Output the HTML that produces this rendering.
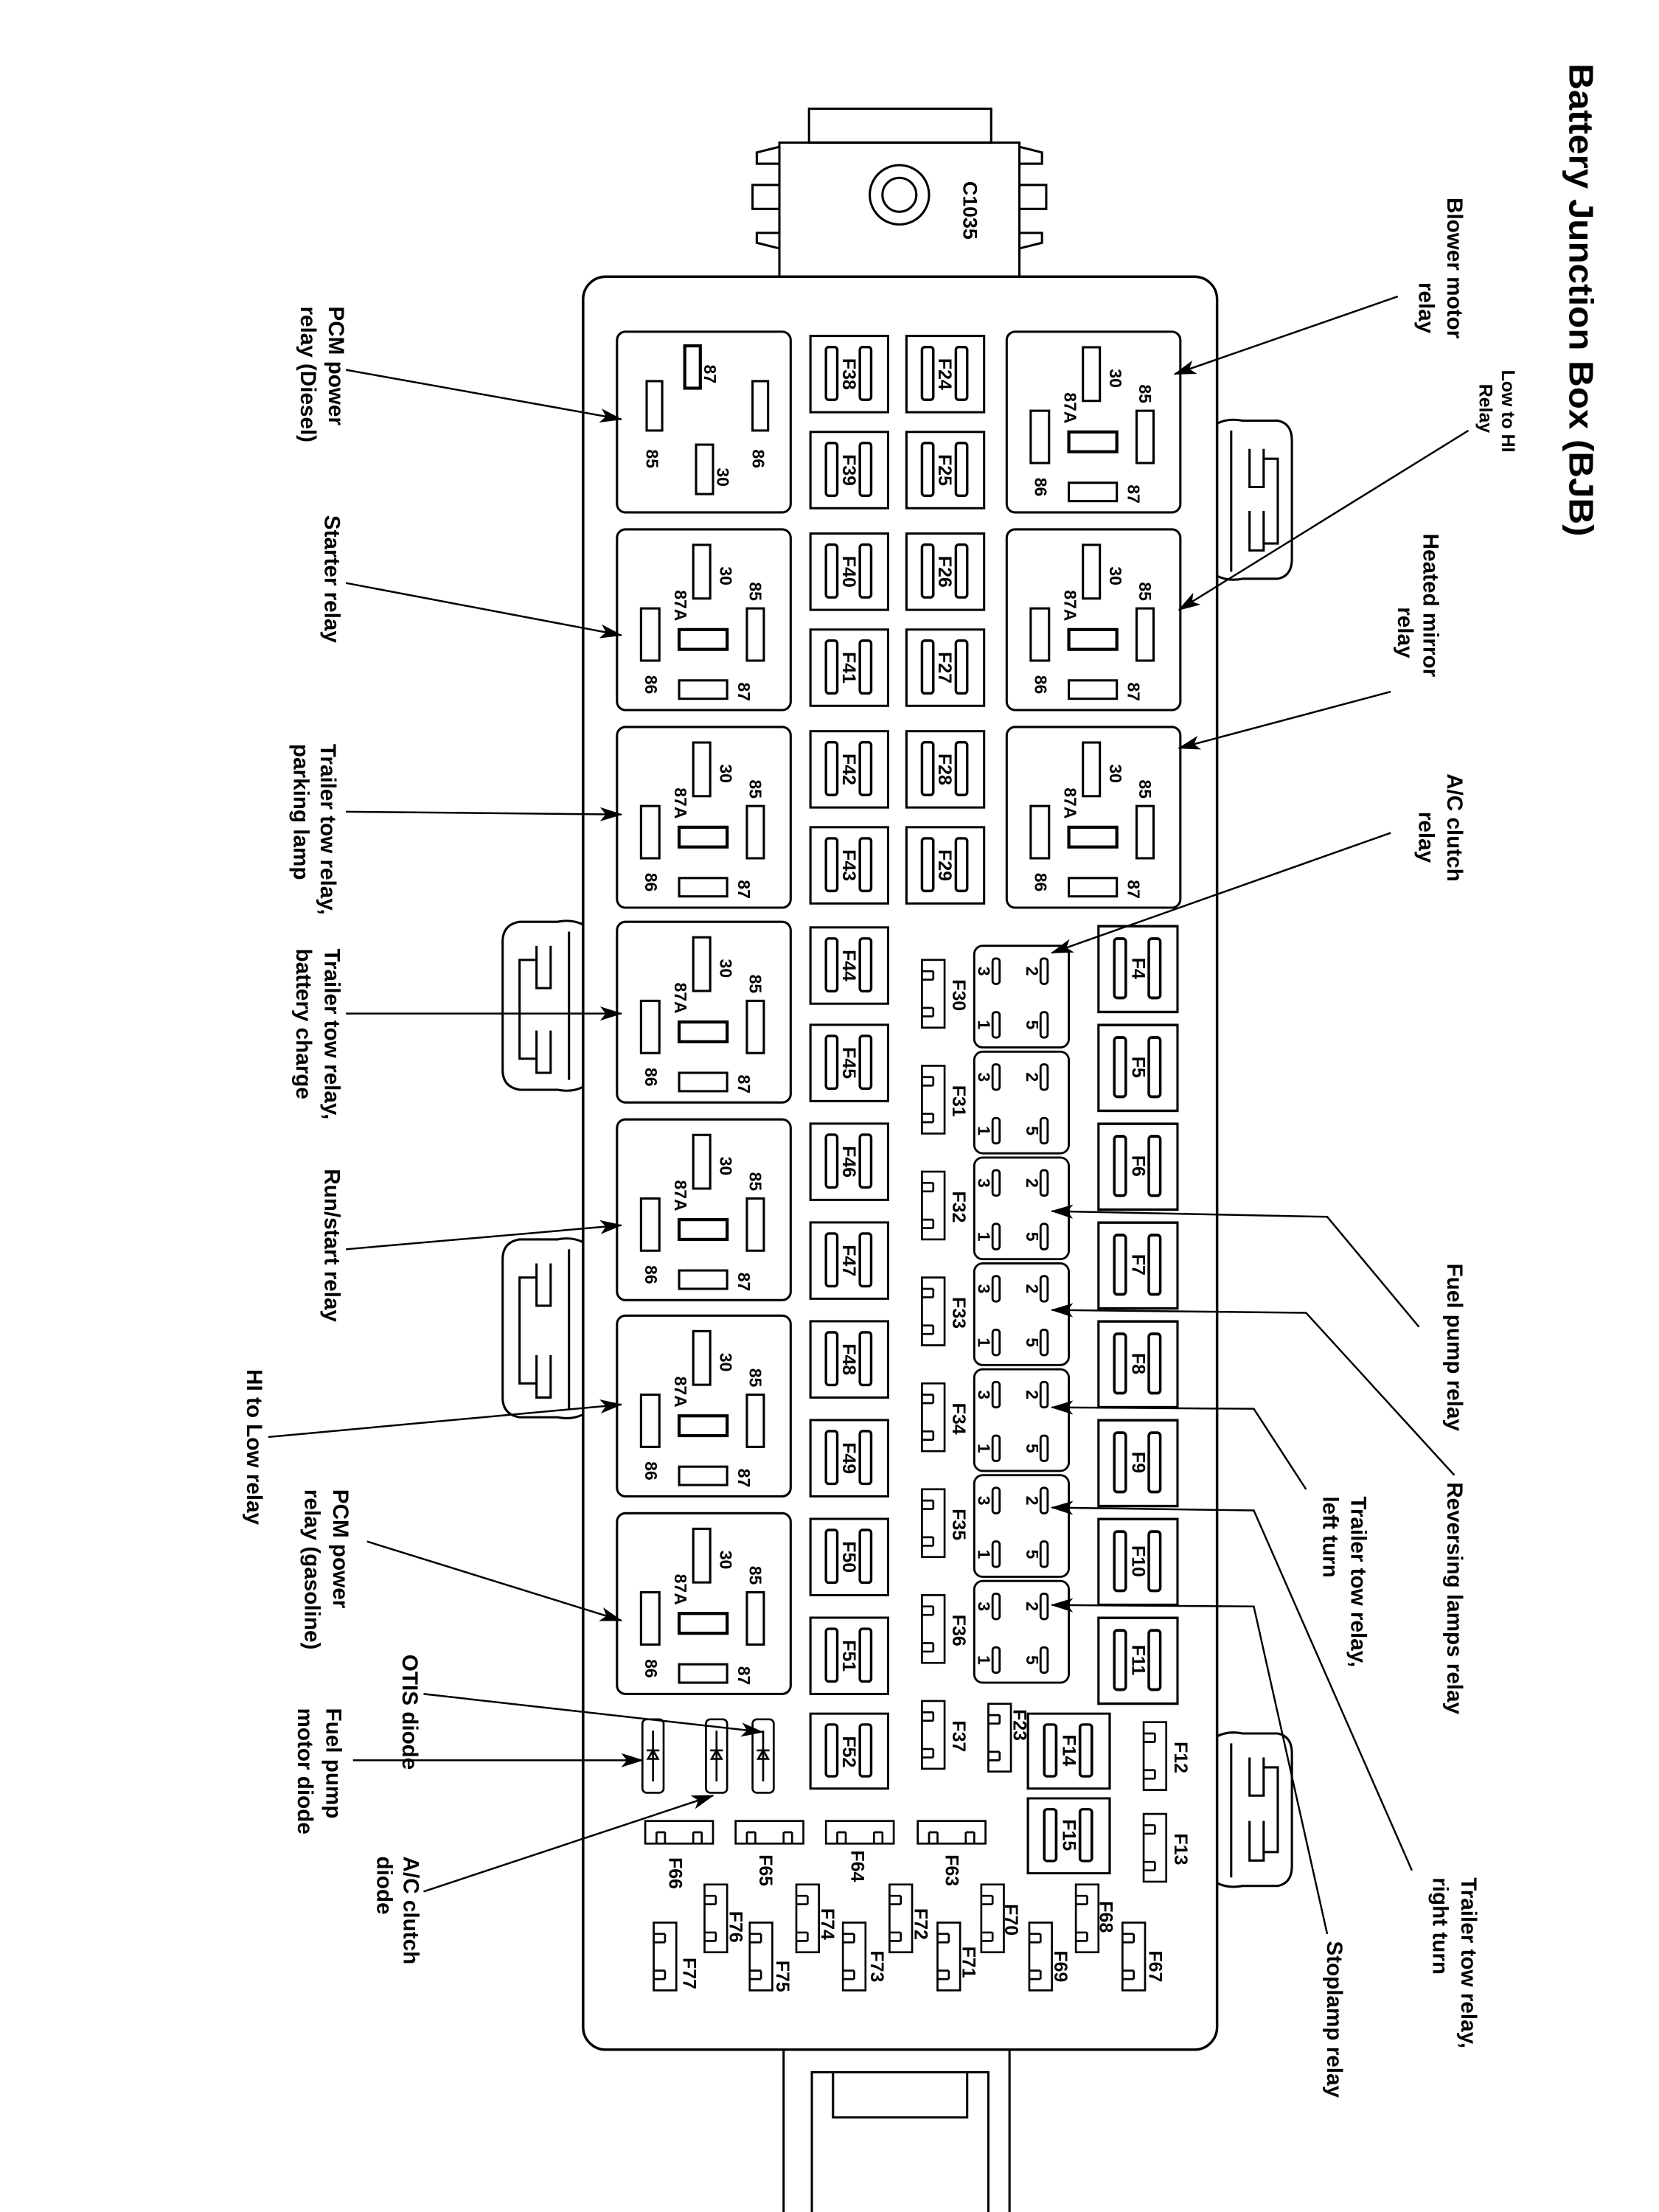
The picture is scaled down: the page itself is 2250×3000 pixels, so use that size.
<!DOCTYPE html>
<html><head><meta charset="utf-8">
<style>
html,body{margin:0;padding:0;background:#fff;}
svg{display:block;}
text{font-family:"Liberation Sans",sans-serif;font-weight:bold;fill:#000;}
.p{font-size:12px;text-anchor:middle;dominant-baseline:central;}
.f{font-size:13px;text-anchor:middle;dominant-baseline:central;}
.l{font-size:15.5px;dominant-baseline:central;}
</style></head><body>
<svg width="2250" height="3000" viewBox="0 0 1175 1567" preserveAspectRatio="none" xmlns="http://www.w3.org/2000/svg">
<defs>
<marker id="ah" markerUnits="userSpaceOnUse" markerWidth="16" markerHeight="10" refX="15" refY="5" orient="auto"><path d="M0,0 L16,5 L0,10 L4,5 Z" fill="#000"/></marker>
<g id="rl" fill="none" stroke="#000" stroke-width="1.6">
<rect x="0" y="0" width="123" height="128" rx="6"/>
<rect x="54" y="11" width="12" height="38"/>
<rect x="92" y="56" width="12" height="37"/>
<rect x="17" y="56" width="13" height="37"/>
<rect x="44" y="71" width="34" height="14" stroke-width="2.2"/>
<rect x="44" y="107" width="34" height="13"/>
</g>
<g id="rd" fill="none" stroke="#000" stroke-width="1.6">
<rect x="0" y="0" width="123" height="128" rx="6"/>
<rect x="48" y="10" width="11" height="30" stroke-width="2.2"/>
<rect x="96" y="35" width="11" height="35"/>
<rect x="21" y="35" width="11" height="35"/>
<rect x="56" y="80" width="12" height="35"/>
</g>
<symbol id="fu" viewBox="0 0 57 57" preserveAspectRatio="none">
<rect x="1" y="1" width="55" height="55" fill="none" stroke="#000" stroke-width="1.6"/>
<rect x="12" y="9" width="8" height="38" rx="2" fill="none" stroke="#000" stroke-width="1.8"/>
<rect x="36" y="9" width="8" height="38" rx="2" fill="none" stroke="#000" stroke-width="1.8"/>
</symbol>
<g id="mr" fill="none" stroke="#000" stroke-width="1.5">
<rect x="0" y="0" width="67" height="72" rx="6"/>
<rect x="13" y="9" width="5" height="18" rx="2"/>
<rect x="47" y="9" width="5" height="18" rx="2"/>
<rect x="13" y="47" width="5" height="18" rx="2"/>
<rect x="47" y="47" width="5" height="18" rx="2"/>
</g>
<g id="mv" fill="none" stroke="#000" stroke-width="1.4">
<rect x="0" y="0" width="16" height="48"/>
<path d="M0,8 H8 M0,14 H8 M8,8 V14 M0,34 H8 M0,40 H8 M8,34 V40"/>
</g>
<g id="mh" fill="none" stroke="#000" stroke-width="1.4">
<rect x="0" y="0" width="48" height="16"/>
<path d="M8,16 V8 M14,16 V8 M8,8 H14 M34,16 V8 M40,16 V8 M34,8 H40"/>
</g>
<g id="di" fill="none" stroke="#000" stroke-width="1.4">
<rect x="0" y="0" width="15" height="52" rx="3"/>
<path d="M7.5,8 V44 M3,22 H12 M4,28 L7.5,22 L11,28 Z"/>
</g>
</defs>

<text class="l" style="font-size:24px" textLength="335" lengthAdjust="spacingAndGlyphs" transform="translate(1120,45) rotate(90)">Battery Junction Box (BJB)</text>

<g fill="none" stroke="#000" stroke-width="1.6">
<rect x="552" y="101" width="170" height="95"/>
<rect x="573" y="77" width="129" height="24"/>
<path d="M552,104 L536,108 V116 H552 M552,131 H533 V148 H552 M552,165 H536 V172 L552,176"/>
<path d="M722,104 L738,108 V116 H722 M722,131 H741 V148 H722 M722,165 H738 V172 L722,176"/>
<circle cx="637" cy="138" r="21"/><circle cx="637" cy="138" r="12"/>
</g>
<text class="f" style="font-size:14px" transform="translate(687,149) rotate(90)">C1035</text>

<rect x="413" y="196" width="449" height="1256" rx="16" fill="none" stroke="#000" stroke-width="1.8"/>
<g fill="none" stroke="#000" stroke-width="1.6">
<path d="M555,1452 V1567 M715,1452 V1567"/>
<path d="M575,1567 V1468 H700 V1567 M590,1468 V1500 H685 V1468"/>
</g>
<g fill="none" stroke="#000" stroke-width="1.6">
<path d="M862,300 Q870,296 880,298 H905 Q915,300 915,312 V396 Q915,408 905,410 H880 Q870,412 862,408"/>
<path d="M872,305 V405 M885,318 V345 H895 V318 M885,362 V390 H895 V362 M895,325 H905 V385 H895"/>
<path d="M862,1230 Q870,1226 880,1228 H905 Q915,1230 915,1242 V1322 Q915,1334 905,1336 H880 Q870,1338 862,1334"/>
<path d="M872,1235 V1330 M885,1245 V1272 H895 V1245 M885,1290 V1318 H895 V1290 M895,1252 H905 V1312 H895"/>
<path d="M413,655 Q405,651 395,653 H368 Q356,655 356,667 V758 Q356,770 368,772 H395 Q405,774 413,770"/>
<path d="M403,660 V765 M390,670 V700 H380 V670 M390,730 V760 H380 V730 M380,680 H368 V750 H380"/>
<path d="M413,880 Q405,876 395,878 H368 Q356,880 356,892 V990 Q356,1002 368,1004 H395 Q405,1006 413,1002"/>
<path d="M403,885 V998 M390,895 V925 H380 V895 M390,960 V990 H380 V960 M380,905 H368 V980 H380"/>
</g>

<use href="#rd" x="437" y="235"/>
<text class="p" transform="translate(503,265) rotate(90)">87</text>
<text class="p" transform="translate(537,325) rotate(90)">86</text>
<text class="p" transform="translate(462,325) rotate(90)">85</text>
<text class="p" transform="translate(512,338) rotate(90)">30</text>

<use href="#rl" x="437" y="375"/>
<use href="#rl" x="437" y="515"/>
<use href="#rl" x="437" y="653"/>
<use href="#rl" x="437" y="793"/>
<use href="#rl" x="437" y="932"/>
<use href="#rl" x="437" y="1072"/>
<use href="#rl" x="713" y="235"/>
<use href="#rl" x="713" y="375"/>
<use href="#rl" x="713" y="515"/>

<g>
<text class="p" transform="translate(514,408) rotate(90)">30</text><text class="p" transform="translate(535,419) rotate(90)">85</text><text class="p" transform="translate(482,429) rotate(90)">87A</text><text class="p" transform="translate(461,485) rotate(90)">86</text><text class="p" transform="translate(527,490) rotate(90)">87</text>
<text class="p" transform="translate(514,548) rotate(90)">30</text><text class="p" transform="translate(535,559) rotate(90)">85</text><text class="p" transform="translate(482,569) rotate(90)">87A</text><text class="p" transform="translate(461,625) rotate(90)">86</text><text class="p" transform="translate(527,630) rotate(90)">87</text>
<text class="p" transform="translate(514,686) rotate(90)">30</text><text class="p" transform="translate(535,697) rotate(90)">85</text><text class="p" transform="translate(482,707) rotate(90)">87A</text><text class="p" transform="translate(461,763) rotate(90)">86</text><text class="p" transform="translate(527,768) rotate(90)">87</text>
<text class="p" transform="translate(514,826) rotate(90)">30</text><text class="p" transform="translate(535,837) rotate(90)">85</text><text class="p" transform="translate(482,847) rotate(90)">87A</text><text class="p" transform="translate(461,903) rotate(90)">86</text><text class="p" transform="translate(527,908) rotate(90)">87</text>
<text class="p" transform="translate(514,965) rotate(90)">30</text><text class="p" transform="translate(535,976) rotate(90)">85</text><text class="p" transform="translate(482,986) rotate(90)">87A</text><text class="p" transform="translate(461,1042) rotate(90)">86</text><text class="p" transform="translate(527,1047) rotate(90)">87</text>
<text class="p" transform="translate(514,1105) rotate(90)">30</text><text class="p" transform="translate(535,1116) rotate(90)">85</text><text class="p" transform="translate(482,1126) rotate(90)">87A</text><text class="p" transform="translate(461,1182) rotate(90)">86</text><text class="p" transform="translate(527,1187) rotate(90)">87</text>
<text class="p" transform="translate(790,268) rotate(90)">30</text><text class="p" transform="translate(811,279) rotate(90)">85</text><text class="p" transform="translate(758,289) rotate(90)">87A</text><text class="p" transform="translate(737,345) rotate(90)">86</text><text class="p" transform="translate(803,350) rotate(90)">87</text>
<text class="p" transform="translate(790,408) rotate(90)">30</text><text class="p" transform="translate(811,419) rotate(90)">85</text><text class="p" transform="translate(758,429) rotate(90)">87A</text><text class="p" transform="translate(737,485) rotate(90)">86</text><text class="p" transform="translate(803,490) rotate(90)">87</text>
<text class="p" transform="translate(790,548) rotate(90)">30</text><text class="p" transform="translate(811,559) rotate(90)">85</text><text class="p" transform="translate(758,569) rotate(90)">87A</text><text class="p" transform="translate(737,625) rotate(90)">86</text><text class="p" transform="translate(803,630) rotate(90)">87</text>
</g>

<g>
<use href="#fu" x="573" y="237" width="57" height="56"/><text class="f" transform="translate(601,265) rotate(90)">F38</text>
<use href="#fu" x="573" y="305" width="57" height="56"/><text class="f" transform="translate(601,333) rotate(90)">F39</text>
<use href="#fu" x="573" y="377" width="57" height="56"/><text class="f" transform="translate(601,405) rotate(90)">F40</text>
<use href="#fu" x="573" y="445" width="57" height="56"/><text class="f" transform="translate(601,473) rotate(90)">F41</text>
<use href="#fu" x="573" y="517" width="57" height="56"/><text class="f" transform="translate(601,545) rotate(90)">F42</text>
<use href="#fu" x="573" y="585" width="57" height="56"/><text class="f" transform="translate(601,613) rotate(90)">F43</text>
<use href="#fu" x="573" y="656" width="57" height="56"/><text class="f" transform="translate(601,684) rotate(90)">F44</text>
<use href="#fu" x="573" y="725" width="57" height="56"/><text class="f" transform="translate(601,753) rotate(90)">F45</text>
<use href="#fu" x="573" y="795" width="57" height="56"/><text class="f" transform="translate(601,823) rotate(90)">F46</text>
<use href="#fu" x="573" y="865" width="57" height="56"/><text class="f" transform="translate(601,893) rotate(90)">F47</text>
<use href="#fu" x="573" y="935" width="57" height="56"/><text class="f" transform="translate(601,963) rotate(90)">F48</text>
<use href="#fu" x="573" y="1005" width="57" height="56"/><text class="f" transform="translate(601,1033) rotate(90)">F49</text>
<use href="#fu" x="573" y="1075" width="57" height="56"/><text class="f" transform="translate(601,1103) rotate(90)">F50</text>
<use href="#fu" x="573" y="1145" width="57" height="56"/><text class="f" transform="translate(601,1173) rotate(90)">F51</text>
<use href="#fu" x="573" y="1213" width="57" height="55"/><text class="f" transform="translate(601,1241) rotate(90)">F52</text>
<use href="#fu" x="641" y="237" width="57" height="56"/><text class="f" transform="translate(669,265) rotate(90)">F24</text>
<use href="#fu" x="641" y="305" width="57" height="56"/><text class="f" transform="translate(669,333) rotate(90)">F25</text>
<use href="#fu" x="641" y="377" width="57" height="56"/><text class="f" transform="translate(669,405) rotate(90)">F26</text>
<use href="#fu" x="641" y="445" width="57" height="56"/><text class="f" transform="translate(669,473) rotate(90)">F27</text>
<use href="#fu" x="641" y="517" width="57" height="56"/><text class="f" transform="translate(669,545) rotate(90)">F28</text>
<use href="#fu" x="641" y="585" width="57" height="56"/><text class="f" transform="translate(669,613) rotate(90)">F29</text>
<use href="#fu" x="777" y="655" width="58" height="63"/><text class="f" transform="translate(806,686) rotate(90)">F4</text>
<use href="#fu" x="777" y="725" width="58" height="63"/><text class="f" transform="translate(806,756) rotate(90)">F5</text>
<use href="#fu" x="777" y="795" width="58" height="63"/><text class="f" transform="translate(806,826) rotate(90)">F6</text>
<use href="#fu" x="777" y="865" width="58" height="63"/><text class="f" transform="translate(806,896) rotate(90)">F7</text>
<use href="#fu" x="777" y="935" width="58" height="63"/><text class="f" transform="translate(806,966) rotate(90)">F8</text>
<use href="#fu" x="777" y="1005" width="58" height="63"/><text class="f" transform="translate(806,1036) rotate(90)">F9</text>
<use href="#fu" x="777" y="1075" width="58" height="63"/><text class="f" transform="translate(806,1106) rotate(90)">F10</text>
<use href="#fu" x="777" y="1145" width="58" height="63"/><text class="f" transform="translate(806,1176) rotate(90)">F11</text>
<use href="#fu" x="727" y="1213" width="60" height="55"/><text class="f" transform="translate(757,1240) rotate(90)">F14</text>
<use href="#fu" x="727" y="1273" width="60" height="55"/><text class="f" transform="translate(757,1300) rotate(90)">F15</text>
</g>

<g>
<use href="#mr" x="690" y="670"/><use href="#mr" x="690" y="745"/><use href="#mr" x="690" y="820"/><use href="#mr" x="690" y="895"/><use href="#mr" x="690" y="970"/><use href="#mr" x="690" y="1045"/><use href="#mr" x="690" y="1120"/>
<text class="p" transform="translate(697,688) rotate(90)">3</text><text class="p" transform="translate(731,688) rotate(90)">2</text><text class="p" transform="translate(697,726) rotate(90)">1</text><text class="p" transform="translate(731,726) rotate(90)">5</text>
<text class="p" transform="translate(697,763) rotate(90)">3</text><text class="p" transform="translate(731,763) rotate(90)">2</text><text class="p" transform="translate(697,801) rotate(90)">1</text><text class="p" transform="translate(731,801) rotate(90)">5</text>
<text class="p" transform="translate(697,838) rotate(90)">3</text><text class="p" transform="translate(731,838) rotate(90)">2</text><text class="p" transform="translate(697,876) rotate(90)">1</text><text class="p" transform="translate(731,876) rotate(90)">5</text>
<text class="p" transform="translate(697,913) rotate(90)">3</text><text class="p" transform="translate(731,913) rotate(90)">2</text><text class="p" transform="translate(697,951) rotate(90)">1</text><text class="p" transform="translate(731,951) rotate(90)">5</text>
<text class="p" transform="translate(697,988) rotate(90)">3</text><text class="p" transform="translate(731,988) rotate(90)">2</text><text class="p" transform="translate(697,1026) rotate(90)">1</text><text class="p" transform="translate(731,1026) rotate(90)">5</text>
<text class="p" transform="translate(697,1063) rotate(90)">3</text><text class="p" transform="translate(731,1063) rotate(90)">2</text><text class="p" transform="translate(697,1101) rotate(90)">1</text><text class="p" transform="translate(731,1101) rotate(90)">5</text>
<text class="p" transform="translate(697,1138) rotate(90)">3</text><text class="p" transform="translate(731,1138) rotate(90)">2</text><text class="p" transform="translate(697,1176) rotate(90)">1</text><text class="p" transform="translate(731,1176) rotate(90)">5</text>
</g>

<g>
<use href="#mv" x="653" y="680"/><text class="f" transform="translate(679,705) rotate(90)">F30</text>
<use href="#mv" x="653" y="755"/><text class="f" transform="translate(679,780) rotate(90)">F31</text>
<use href="#mv" x="653" y="830"/><text class="f" transform="translate(679,855) rotate(90)">F32</text>
<use href="#mv" x="653" y="905"/><text class="f" transform="translate(679,930) rotate(90)">F33</text>
<use href="#mv" x="653" y="980"/><text class="f" transform="translate(679,1005) rotate(90)">F34</text>
<use href="#mv" x="653" y="1055"/><text class="f" transform="translate(679,1080) rotate(90)">F35</text>
<use href="#mv" x="653" y="1130"/><text class="f" transform="translate(679,1155) rotate(90)">F36</text>
<use href="#mv" x="653" y="1205"/><text class="f" transform="translate(679,1230) rotate(90)">F37</text>
<use href="#mv" x="700" y="1207"/><text class="f" transform="translate(722,1222) rotate(90)">F23</text>
<use href="#mv" x="810" y="1220"/><text class="f" transform="translate(836,1245) rotate(90)">F12</text>
<use href="#mv" x="810" y="1285"/><text class="f" transform="translate(836,1310) rotate(90)">F13</text>
<use href="#mh" x="457" y="1290"/><text class="f" transform="translate(478,1327) rotate(90)">F66</text>
<use href="#mh" x="521" y="1290"/><text class="f" transform="translate(542,1325) rotate(90)">F65</text>
<use href="#mh" x="585" y="1290"/><text class="f" transform="translate(607,1322) rotate(90)">F64</text>
<use href="#mh" x="650" y="1290"/><text class="f" transform="translate(674,1325) rotate(90)">F63</text>
<use href="#mv" x="463" y="1362"/><text class="f" transform="translate(488,1398) rotate(90)">F77</text>
<use href="#mv" x="499" y="1335"/><text class="f" transform="translate(521,1365) rotate(90)">F76</text>
<use href="#mv" x="531" y="1362"/><text class="f" transform="translate(554,1400) rotate(90)">F75</text>
<use href="#mv" x="564" y="1335"/><text class="f" transform="translate(586,1363) rotate(90)">F74</text>
<use href="#mv" x="597" y="1362"/><text class="f" transform="translate(621,1393) rotate(90)">F73</text>
<use href="#mv" x="630" y="1335"/><text class="f" transform="translate(652,1363) rotate(90)">F72</text>
<use href="#mv" x="664" y="1362"/><text class="f" transform="translate(686,1390) rotate(90)">F71</text>
<use href="#mv" x="695" y="1335"/><text class="f" transform="translate(716,1360) rotate(90)">F70</text>
<use href="#mv" x="729" y="1362"/><text class="f" transform="translate(751,1393) rotate(90)">F69</text>
<use href="#mv" x="762" y="1335"/><text class="f" transform="translate(783,1358) rotate(90)">F68</text>
<use href="#mv" x="795" y="1362"/><text class="f" transform="translate(818,1393) rotate(90)">F67</text>
</g>

<use href="#di" x="455" y="1218"/><use href="#di" x="500" y="1218"/><use href="#di" x="533" y="1218"/>

<g fill="none" stroke="#000" stroke-width="1.3" marker-end="url(#ah)">
<path d="M990,210 L832,265"/>
<path d="M1040,305 L835,432"/>
<path d="M985,490 L835,530"/>
<path d="M985,590 L745,675"/>
<path d="M1005,940 L940,862 L745,858"/>
<path d="M1030,1045 L925,930 L745,928"/>
<path d="M925,1055 L888,998 L745,997"/>
<path d="M1000,1325 L888,1070 L745,1068"/>
<path d="M940,1370 L888,1138 L745,1137"/>
<path d="M245,262 L440,297"/>
<path d="M245,413 L440,450"/>
<path d="M245,575 L440,577"/>
<path d="M245,718 L440,718"/>
<path d="M245,885 L440,868"/>
<path d="M190,1018 L440,995"/>
<path d="M260,1092 L440,1148"/>
<path d="M300,1200 L540,1227"/>
<path d="M250,1247 L455,1247"/>
<path d="M300,1340 L505,1272"/>
</g>

<g>
<text class="l" transform="translate(1030,140) rotate(90)">Blower motor</text>
<text class="l" transform="translate(1010,200) rotate(90)">relay</text>
<text class="l" style="font-size:13px" transform="translate(1068,262) rotate(90)">Low to HI</text>
<text class="l" style="font-size:13px" transform="translate(1052,272) rotate(90)">Relay</text>
<text class="l" transform="translate(1013,378) rotate(90)">Heated mirror</text>
<text class="l" transform="translate(995,430) rotate(90)">relay</text>
<text class="l" transform="translate(1030,548) rotate(90)">A/C clutch</text>
<text class="l" transform="translate(1010,575) rotate(90)">relay</text>
<text class="l" transform="translate(1030,895) rotate(90)">Fuel pump relay</text>
<text class="l" transform="translate(1030,1050) rotate(90)">Reversing lamps relay</text>
<text class="l" transform="translate(962,1060) rotate(90)">Trailer tow relay,</text>
<text class="l" transform="translate(942,1060) rotate(90)">left turn</text>
<text class="l" transform="translate(1040,1330) rotate(90)">Trailer tow relay,</text>
<text class="l" transform="translate(1020,1330) rotate(90)">right turn</text>
<text class="l" transform="translate(945,1375) rotate(90)">Stoplamp relay</text>
<text class="l" transform="translate(238,217) rotate(90)">PCM power</text>
<text class="l" transform="translate(218,217) rotate(90)">relay (Diesel)</text>
<text class="l" transform="translate(235,365) rotate(90)">Starter relay</text>
<text class="l" transform="translate(232,527) rotate(90)">Trailer tow relay,</text>
<text class="l" transform="translate(213,527) rotate(90)">parking lamp</text>
<text class="l" transform="translate(235,672) rotate(90)">Trailer tow relay,</text>
<text class="l" transform="translate(215,672) rotate(90)">battery charge</text>
<text class="l" transform="translate(235,828) rotate(90)">Run/start relay</text>
<text class="l" transform="translate(180,970) rotate(90)">HI to Low relay</text>
<text class="l" transform="translate(241,1055) rotate(90)">PCM power</text>
<text class="l" transform="translate(221,1055) rotate(90)">relay (gasoline)</text>
<text class="l" transform="translate(290,1172) rotate(90)">OTIS diode</text>
<text class="l" transform="translate(236,1210) rotate(90)">Fuel pump</text>
<text class="l" transform="translate(216,1210) rotate(90)">motor diode</text>
<text class="l" transform="translate(291,1315) rotate(90)">A/C clutch</text>
<text class="l" transform="translate(272,1315) rotate(90)">diode</text>
</g>
</svg>
</body></html>
